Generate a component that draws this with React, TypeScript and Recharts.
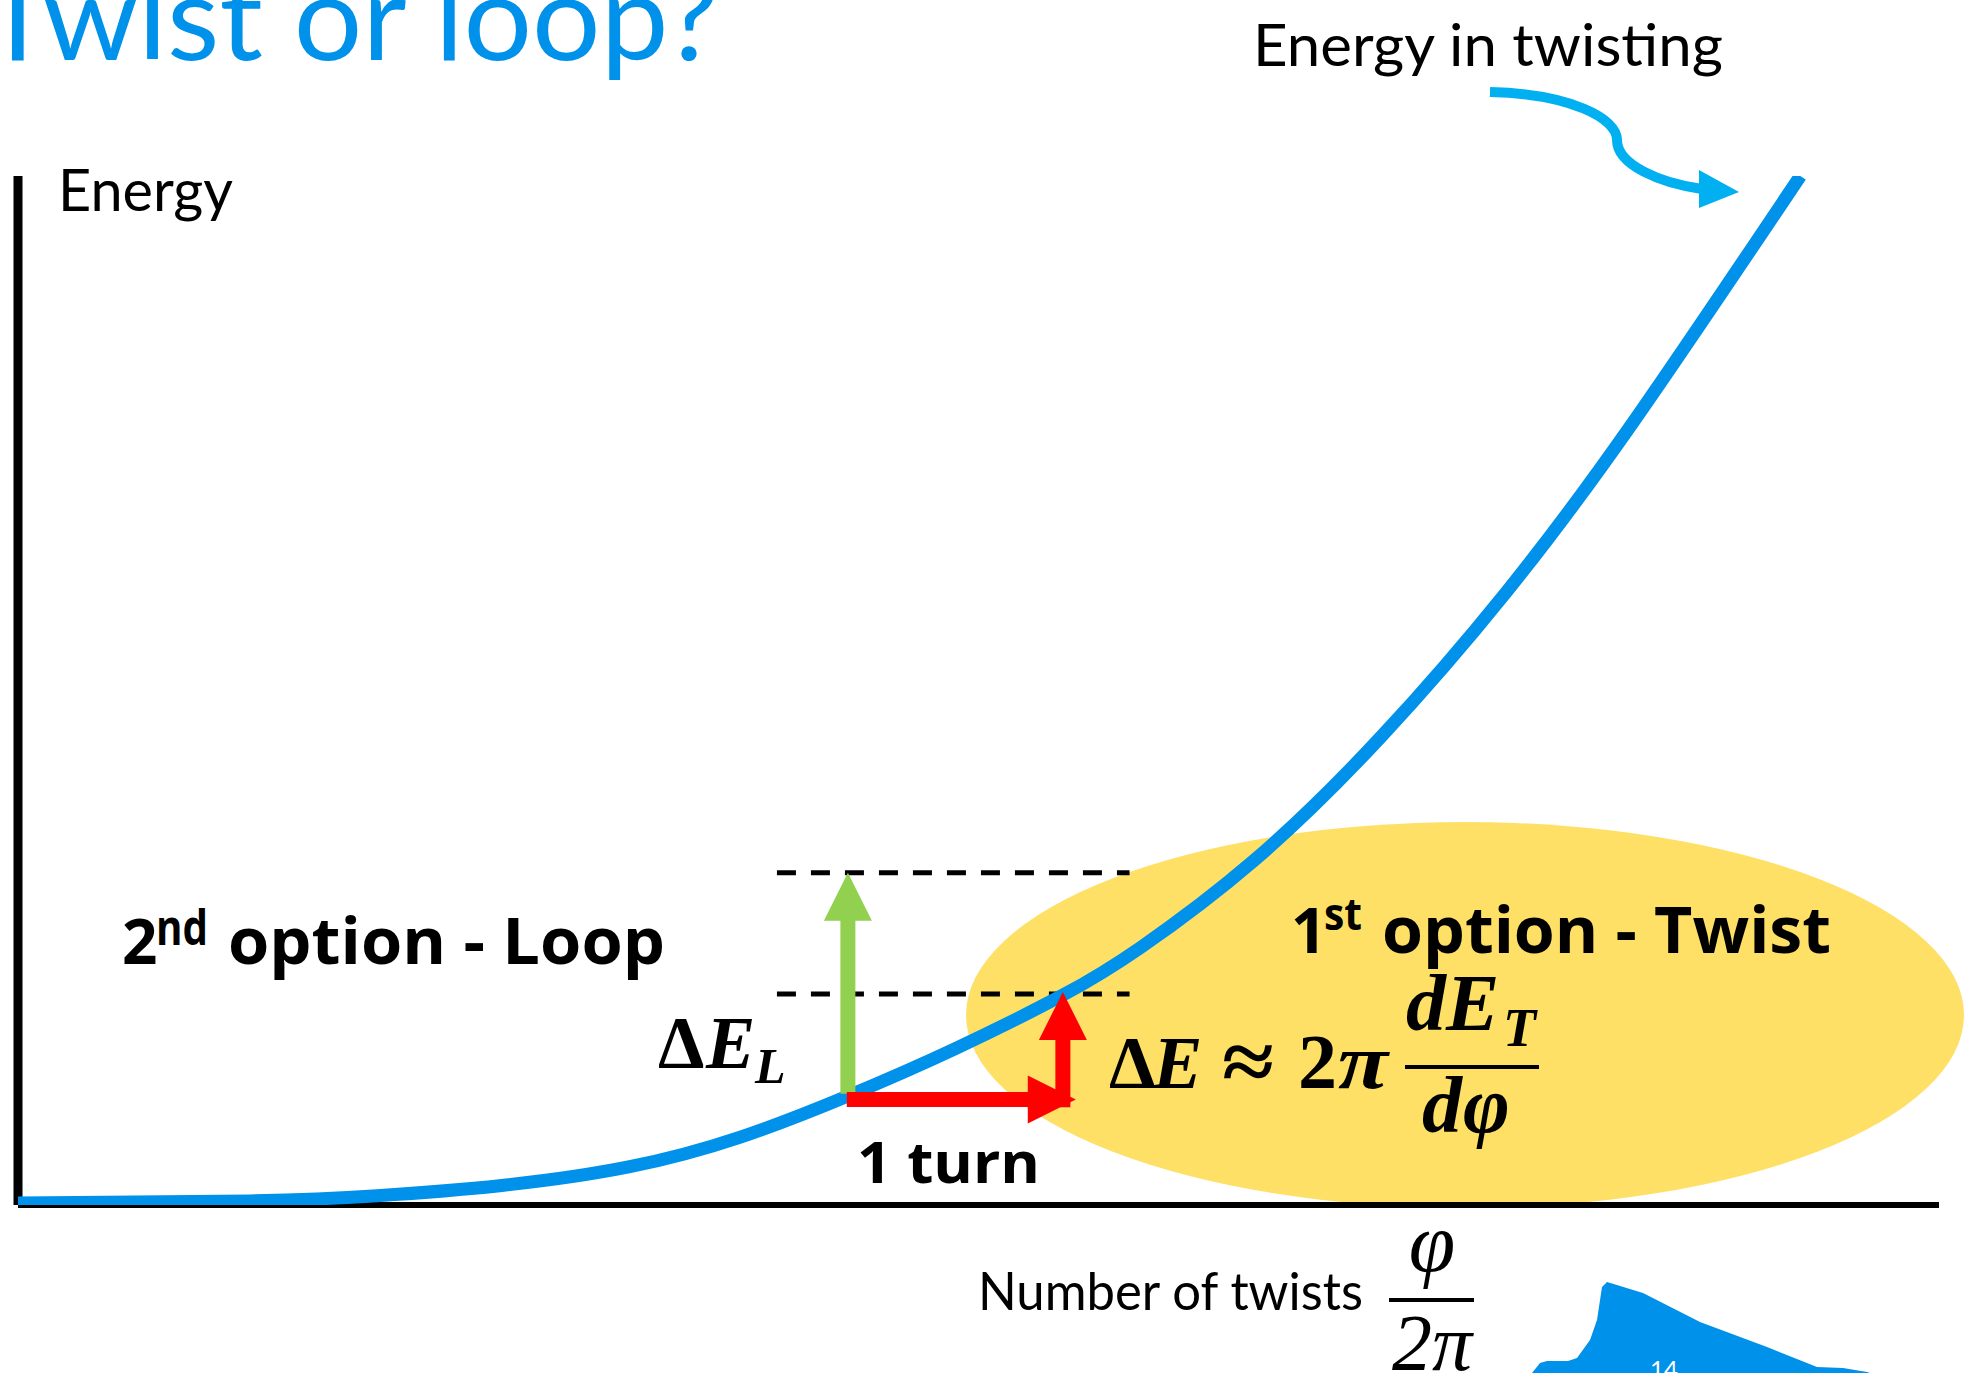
import React from 'react';
import { LineChart, Line, XAxis, YAxis, ReferenceLine } from 'recharts';

// number of twists (phi / 2pi) and the twisting energy
const twists = [0, 1.08, 1.67, 2.25, 2.84, 3.36, 3.86, 4.36, 4.86, 5.22, 5.75, 6.34, 6.92, 7.51, 8.29];
const energy = [0.2, 0.4, 0.9, 1.9, 3.7, 6.6, 10.6, 15.2, 20.4, 25.0, 33.5, 45.5, 59.5, 76.0, 100];

// the "1 turn" step and the two energy levels marked with dashes
const turnStart = 3.86;
const turnEnd = 4.86;
const loopLevel = 32.3;
const twistLevel = 20.5;
const dashFrom = 3.53;
const dashTo = 5.17;

const data = twists.map((x, i) => ({ x, e: energy[i] }));

const W = 1968;
const H = 1373;
const BLUE = '#0091EA';

const arrow = (color: string, shaft = 7.5, head = 24, headLen = 48) => (props: any) => {
  const { x1, y1, x2, y2 } = props;
  const len = Math.hypot(x2 - x1, y2 - y1) || 1;
  const ux = (x2 - x1) / len;
  const uy = (y2 - y1) / len;
  const nx = -uy;
  const ny = ux;
  const bx = x2 - ux * headLen;
  const by = y2 - uy * headLen;
  const pts = [
    [x1 + nx * shaft, y1 + ny * shaft],
    [bx + nx * shaft, by + ny * shaft],
    [bx + nx * head, by + ny * head],
    [x2, y2],
    [bx - nx * head, by - ny * head],
    [bx - nx * shaft, by - ny * shaft],
    [x1 - nx * shaft, y1 - ny * shaft],
  ];
  return <polygon points={pts.map(p => p.join(',')).join(' ')} fill={color} />;
};

const sans = 'Lato, "Open Sans", sans-serif';
const bold = '"Open Sans", Lato, sans-serif';
const math = '"Liberation Serif", "DejaVu Serif", serif';

export default function App() {
  return (
    <div style={{ position: 'absolute', left: 0, top: 0, width: W, height: H, overflow: 'hidden', background: '#fff' }}>
      {/* yellow highlight behind the chart */}
      <svg width={W} height={H} style={{ position: 'absolute', left: 0, top: 0 }}>
        <ellipse cx={1465} cy={1015} rx={499} ry={193} fill="#FEE066" />
      </svg>

      <div style={{ position: 'absolute', left: 0, top: 0 }}>
        <LineChart width={W} height={H} data={data} margin={{ top: 176, right: 29, bottom: 168, left: 18 }}>
          <XAxis dataKey="x" type="number" domain={[0, 8.935]} allowDataOverflow hide />
          <YAxis type="number" domain={[0, 100]} allowDataOverflow hide />
          <ReferenceLine x={0} stroke="#000" strokeWidth={9} />
          <ReferenceLine y={0} stroke="#000" strokeWidth={6} />
          <ReferenceLine segment={[{ x: dashFrom, y: loopLevel }, { x: dashTo, y: loopLevel }]}
            stroke="#000" strokeWidth={5} strokeDasharray="19 15" />
          <ReferenceLine segment={[{ x: dashFrom, y: twistLevel }, { x: dashTo, y: twistLevel }]}
            stroke="#000" strokeWidth={5} strokeDasharray="19 15" />
          <Line type="natural" dataKey="e" stroke={BLUE} strokeWidth={13} dot={false} isAnimationActive={false} />
          <ReferenceLine segment={[{ x: turnStart, y: 10.8 }, { x: turnStart, y: loopLevel }]} shape={arrow('#92D050')} />
          <ReferenceLine segment={[{ x: 3.855, y: 10.25 }, { x: 4.92, y: 10.25 }]} shape={arrow('#FF0000')} />
          <ReferenceLine segment={[{ x: turnEnd, y: 9.5 }, { x: turnEnd, y: 20.7 }]} shape={arrow('#FF0000')} />
        </LineChart>
      </div>

      <svg width={W} height={H} style={{ position: 'absolute', left: 0, top: 0 }}>
        <text x={-18} y={60} fontFamily={sans} fontSize={119} fill={BLUE} textLength={737} lengthAdjust="spacingAndGlyphs">Twist or loop?</text>

        <text x={1253} y={66} fontFamily={sans} fontSize={58} fill="#000" textLength={470} lengthAdjust="spacingAndGlyphs">Energy in twisting</text>
        <path d="M1490,92 C1570,94 1617,118 1617,140 C1617,165 1660,183 1702,189" fill="none" stroke="#00B0F0" strokeWidth={10} />
        <polygon points="1699,170 1739,192 1699,208" fill="#00B0F0" />

        <text x={58} y={211} fontFamily={sans} fontSize={58} fill="#000" textLength={175} lengthAdjust="spacingAndGlyphs">Energy</text>

        <text x={122} y={964} fontFamily={bold} fontWeight={700} fontSize={62} fill="#000">2</text>
        <text x={156} y={945} fontFamily={bold} fontWeight={700} fontSize={48} fill="#000" textLength={52} lengthAdjust="spacingAndGlyphs">nd</text>
        <text x={228} y={964} fontFamily={bold} fontWeight={700} fontSize={64} fill="#000" textLength={437} lengthAdjust="spacingAndGlyphs">option - Loop</text>

        <text x={1291} y={953} fontFamily={bold} fontWeight={700} fontSize={62} fill="#000">1</text>
        <text x={1324} y={930} fontFamily={bold} fontWeight={700} fontSize={44} fill="#000" textLength={38} lengthAdjust="spacingAndGlyphs">st</text>
        <text x={1382} y={953} fontFamily={bold} fontWeight={700} fontSize={64} fill="#000" textLength={449} lengthAdjust="spacingAndGlyphs">option - Twist</text>

        <text x={857} y={1183} fontFamily={bold} fontWeight={700} fontSize={58} fill="#000" textLength={183} lengthAdjust="spacingAndGlyphs">1 turn</text>

        <text x={658} y={1068} fontFamily={math} fontWeight={700} fontSize={74} fill="#000">Δ</text>
        <text x={706} y={1068} fontFamily={math} fontWeight={700} fontStyle="italic" fontSize={74} fill="#000">E</text>
        <text x={755} y={1083} fontFamily={math} fontWeight={700} fontStyle="italic" fontSize={50} fill="#000">L</text>

        <text x={1109} y={1088} fontFamily={math} fontWeight={700} fontSize={74} fill="#000">Δ</text>
        <text x={1153} y={1088} fontFamily={math} fontWeight={700} fontStyle="italic" fontSize={74} fill="#000">E</text>
        <text x={1222} y={1090} fontFamily={math} fontWeight={700} fontSize={84} fill="#000" textLength={52} lengthAdjust="spacingAndGlyphs">≈</text>
        <text x={1298} y={1088} fontFamily={math} fontWeight={700} fontSize={78} fill="#000">2</text>
        <text x={1338} y={1088} fontFamily={math} fontWeight={700} fontStyle="italic" fontSize={78} fill="#000" textLength={50} lengthAdjust="spacingAndGlyphs">π</text>
        <text x={1406} y={1030} fontFamily={math} fontWeight={700} fontStyle="italic" fontSize={80} fill="#000">d</text>
        <text x={1446} y={1030} fontFamily={math} fontWeight={700} fontStyle="italic" fontSize={80} fill="#000">E</text>
        <text x={1503} y={1046} fontFamily={math} fontWeight={700} fontStyle="italic" fontSize={54} fill="#000">T</text>
        <line x1={1405} y1={1067} x2={1539} y2={1067} stroke="#000" strokeWidth={4} />
        <text x={1422} y={1132} fontFamily={math} fontWeight={700} fontStyle="italic" fontSize={80} fill="#000">d</text>
        <text x={1463} y={1132} fontFamily={math} fontWeight={700} fontStyle="italic" fontSize={80} fill="#000">φ</text>

        <text x={978} y={1310} fontFamily={sans} fontSize={52} fill="#000" textLength={385} lengthAdjust="spacingAndGlyphs">Number of twists</text>
        <text x={1432} y={1271} textAnchor="middle" fontFamily={math} fontStyle="italic" fontSize={84} fill="#000">φ</text>
        <line x1={1389} y1={1300} x2={1474} y2={1300} stroke="#000" strokeWidth={4} />
        <text x={1432} y={1370} textAnchor="middle" fontFamily={math} fontStyle="italic" fontSize={80} fill="#000">2π</text>

        <polygon
          points="1532,1373 1540,1363 1547,1361 1568,1361 1577,1358 1590,1340 1597,1320 1602,1287 1607,1282 1643,1293 1700,1322 1767,1347 1817,1367 1843,1368 1867,1372 1870,1373"
          fill={BLUE} />
        <text x={1650} y={1378} fontFamily={sans} fontSize={24} fill="#fff">14</text>
      </svg>
    </div>
  );
}
